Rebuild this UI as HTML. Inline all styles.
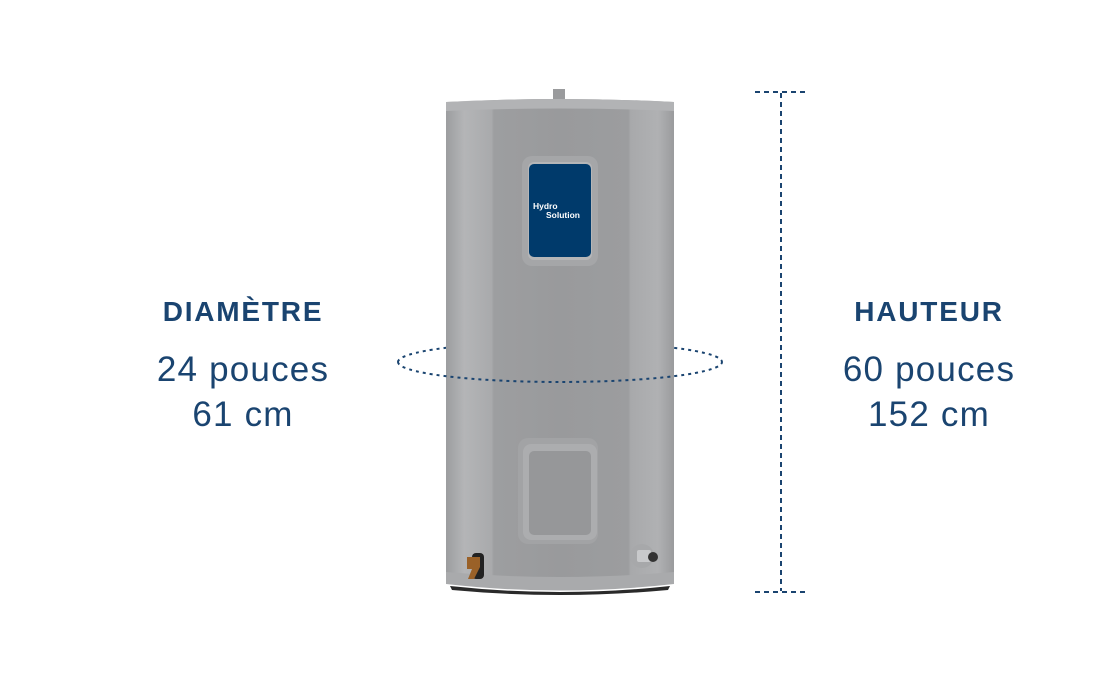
<!DOCTYPE html>
<html><head><meta charset="utf-8"><style>
html,body{margin:0;padding:0;background:#fff;width:1120px;height:700px;overflow:hidden;font-family:"Liberation Sans",sans-serif;color:#1a4470}
.t{position:absolute;text-align:center;width:300px}
.h{font-weight:bold;font-size:28px;letter-spacing:1.8px}
.v{font-size:35px;letter-spacing:1.2px;line-height:45px}
</style></head><body>
<svg width="1120" height="700" style="position:absolute;left:0;top:0">
<defs>
<linearGradient id="g" x1="0" x2="1">
<stop offset="0" stop-color="#9c9d9f"/><stop offset="0.08" stop-color="#b4b5b7"/><stop offset="0.2" stop-color="#a9aaac"/><stop offset="0.21" stop-color="#9d9ea0"/><stop offset="0.5" stop-color="#999a9c"/><stop offset="0.8" stop-color="#9c9d9f"/><stop offset="0.81" stop-color="#a8a9ab"/><stop offset="0.93" stop-color="#b0b1b3"/><stop offset="1" stop-color="#9a9b9d"/>
</linearGradient>
</defs>
<path d="M398 362 A162 20 0 0 1 722 362" fill="none" stroke="#1a4470" stroke-width="2" stroke-dasharray="3 4"/>
<rect x="553" y="89" width="12" height="12" fill="#9a9b9d"/>
<path d="M446 102 Q560 96 674 102 L674 582 Q560 597 446 582 Z" fill="url(#g)"/>
<path d="M446 102 Q560 96 674 102 L674 111 Q560 106 446 111 Z" fill="#b2b3b5"/>
<path d="M446 572 Q560 582 674 572 L674 584 Q560 597 446 584 Z" fill="#a9aaac"/>
<path d="M450 586 Q560 598 670 586 L668 590 Q560 600 452 590 Z" fill="#2a2a2a"/>
<rect x="522" y="156" width="76" height="110" rx="10" fill="#a5a6a8"/>
<rect x="528" y="162" width="64" height="98" rx="6" fill="#b5b6b8"/>
<rect x="529" y="164" width="62" height="93" rx="5" fill="#003a6b"/>
<text x="533" y="209" font-family="Liberation Sans,sans-serif" font-weight="bold" font-size="8.5" fill="#fff">Hydro</text>
<text x="546" y="218" font-family="Liberation Sans,sans-serif" font-weight="bold" font-size="8.5" fill="#fff">Solution</text>
<rect x="518" y="438" width="80" height="106" rx="10" fill="#a2a3a5"/>
<rect x="523" y="444" width="74" height="96" rx="8" fill="#acadaf"/>
<rect x="529" y="451" width="62" height="84" rx="5" fill="#969799"/>
<circle cx="642" cy="556" r="12" fill="#a7a8aa"/>
<rect x="637" y="550" width="14" height="12" rx="2" fill="#c8c9cb"/>
<circle cx="653" cy="557" r="5" fill="#333"/>
<rect x="472" y="553" width="12" height="26" rx="4" fill="#222"/>
<path d="M467 557 h13 v10 l-6 12 h-6 l4-10 h-5 z" fill="#9a6128"/>
<path d="M398 362 A162 20 0 0 0 722 362" fill="none" stroke="#1a4470" stroke-width="2" stroke-dasharray="3 4"/>
<line x1="755" y1="92" x2="808" y2="92" stroke="#1a4470" stroke-width="2" stroke-dasharray="5 4"/>
<line x1="755" y1="592" x2="808" y2="592" stroke="#1a4470" stroke-width="2" stroke-dasharray="5 4"/>
<line x1="781" y1="93" x2="781" y2="591" stroke="#1a4470" stroke-width="2" stroke-dasharray="5 4"/>
</svg>
<div class="t h" style="left:93px;top:296px">DIAMÈTRE</div>
<div class="t v" style="left:93px;top:347px">24 pouces<br>61 cm</div>
<div class="t h" style="left:779px;top:296px">HAUTEUR</div>
<div class="t v" style="left:779px;top:347px">60 pouces<br>152 cm</div>
</body></html>
